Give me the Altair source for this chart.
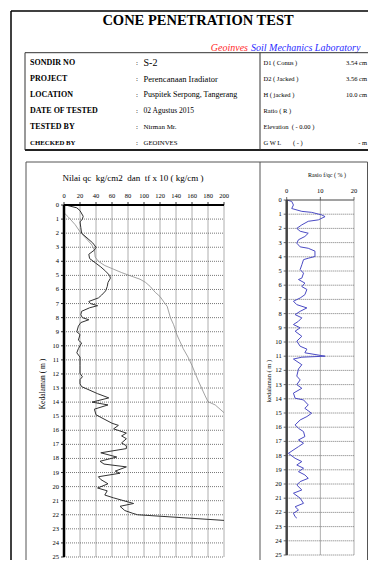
import altair as alt
import pandas as pd

FONT = "Liberation Serif"
NB = "\u00a0"

# ---------------- text content ----------------
title_text = "CONE PENETRATION TEST"
lab_name_a = "Geoinves"
lab_name_b = "Soil Mechanics Laboratory"
info_labels = ["SONDIR NO", "PROJECT", "LOCATION", "DATE OF TESTED", "TESTED BY", "CHECKED BY"]
info_values = ["S-2", "Perencanaan Iradiator", "Puspitek Serpong, Tangerang",
               "02 Agustus 2015", "Nirman Mr.", "GEOINVES"]
spec_labels = ["D1 ( Conus )", "D2 ( Jacked )", "H ( jacked )", "Ratio ( R )",
               "Elevation" + NB * 2 + "( - 0.00 )", "G W L"]
spec_mid = ["", "", "", "", "", "( - )"]
spec_values = ["3.54 cm", "3.56 cm", "10.0 cm", "", "", "- m"]

qc_title = "Nilai qc" + NB * 2 + "kg/cm2" + NB * 2 + "dan" + NB * 2 + "tf x 10 ( kg/cm )"
ratio_title = "Rasio f/qc ( % )"
depth_title_left = "Kedalaman ( m )"
depth_title_right = "kedalaman ( m )"

# ---------------- tick labels ----------------
qc_ticks = [0, 20, 40, 60, 80, 100, 120, 140, 160, 180, 200]
ratio_ticks = [0, 10, 20]
depth_ticks = list(range(0, 26))

# ---------------- series ----------------
qc_depth = [0.0, 0.2, 0.4, 0.8, 1.0, 1.2, 1.6, 2.0, 2.4, 2.7, 3.0, 3.2, 3.5, 3.8, 4.1,
            4.4, 4.7, 5.0, 5.2, 5.5, 5.8, 6.1, 6.4, 6.6, 6.85, 7.0, 7.15, 7.3, 7.55,
            7.8, 8.0, 8.15, 8.35, 8.6, 9.0, 9.2, 9.6, 9.8, 10.2, 10.5, 10.8, 11.4,
            11.95, 12.2, 12.4, 12.7, 12.9, 13.1, 13.4, 13.7, 14.0, 14.2, 14.5, 14.9,
            15.2, 15.5, 15.65, 15.9, 16.2, 16.4, 16.6, 16.9, 17.1, 17.3, 17.6, 17.9,
            18.2, 18.4, 18.6, 18.9, 19.05, 19.3, 19.5, 19.8, 20.1, 20.3, 20.6, 20.8,
            21.2, 21.4, 21.7, 21.9, 22.0, 22.4]
qc_value = [2, 16, 20, 24, 23, 20, 21, 22, 30, 36, 40, 38, 31, 32, 39,
            46, 52, 57, 58, 55, 54, 52, 47, 43, 31, 33, 42, 32, 22,
            21, 23, 31, 21, 18, 16, 20, 18, 22, 18, 16, 20, 20,
            20, 23, 20, 20, 22, 30, 42, 56, 35, 55, 38, 40,
            50, 60, 68, 62, 78, 72, 78, 72, 78, 78, 46, 66,
            45, 50, 78, 64, 70, 43, 46, 55, 42, 54, 51, 62,
            87, 70, 76, 86, 92, 200]

tf_depth = [0.55, 0.83, 1.4, 1.9, 2.4, 2.85, 3.2, 3.7, 4.0, 4.3, 4.56, 4.8, 5.03, 5.27,
            5.5, 5.8, 6.2, 6.5, 6.9, 7.2, 8.0, 8.5, 9.2, 9.7, 10.2, 10.8, 11.4, 11.95,
            12.5, 13.0, 13.5, 13.97, 14.2, 14.75]
tf_value = [0, 5, 14, 20, 28, 35, 38, 39, 43, 51, 62, 72, 83, 95,
            102, 108, 114, 120, 125, 129, 133, 137, 141, 145, 149, 155, 160, 164,
            168, 172, 176, 180, 189, 200]

ratio_depth = [0, 0.1, 0.35, 0.6, 0.8, 0.87, 1.05, 1.17, 1.4, 1.5, 1.75, 2.0, 2.2, 2.34,
               2.57, 2.8, 3.04, 3.3, 3.4, 3.6, 3.98, 4.1, 4.2, 4.56, 4.9, 5.15, 5.5, 5.6,
               5.85, 6.1, 6.3, 6.67, 6.9, 7.13, 7.37, 7.6, 7.84, 8.07, 8.3, 8.54, 8.77,
               9.0, 9.24, 9.6, 9.94, 10.3, 10.5, 10.76, 11.0, 11.07, 11.2, 11.6, 11.9,
               12.4, 12.67, 13.0, 13.26, 13.6, 13.96, 14.08, 14.43, 14.67, 15.02, 15.25,
               15.49, 15.84, 16.08, 16.31, 16.66, 16.9, 17.13, 17.37, 17.84, 18.19,
               18.42, 18.66, 18.89, 19.13, 19.36, 19.6, 19.83, 20.07, 20.42, 20.65,
               21.0, 21.36, 21.6, 21.83, 22.06, 22.3, 22.4]
ratio_value = [0, 1.5, 2, 1.5, 4.5, 7.4, 10.4, 11.4, 9.4, 6.4, 4.5, 3, 4, 6.4,
               5.4, 3.5, 3, 4, 6.4, 8.4, 8.4, 6.4, 5, 4.5, 4, 5, 4.5, 3.5,
               5.4, 4.5, 6, 5.4, 4, 2, 3, 6, 4, 2.5, 4.5, 3.5, 2,
               4, 2.5, 4.5, 3, 4, 6, 5.4, 11.4, 4.5, 2, 4.5, 3.5,
               3, 4, 3, 4.5, 2, 2.5, 5, 6.4, 5.4, 7.4, 6,
               4, 2.5, 3.5, 5, 5.4, 3.5, 5, 3.5, 0.5, 2.5,
               4.5, 3, 5, 3.5, 5.4, 6.4, 4, 3, 4.5, 2,
               4, 5, 2.5, 3.5, 2, 2.5, 3]

# ---------------- layout (chart pixel coordinates = page - 8) ----------------
W, H = 360, 552
L_X, L_Y = [56, 216], [197, 549]
R_X, R_Y = [278.7, 346], [192, 547]

dummy = pd.DataFrame({"a": [0]})


def rule(x, y, x2, y2, color="black", width=1.0, dash=None):
    kw = dict(color=color, strokeWidth=width)
    if dash:
        kw["strokeDash"] = dash
    return alt.Chart(dummy).mark_rule(**kw).encode(
        x=alt.value(x), x2=alt.value(x2), y=alt.value(y), y2=alt.value(y2))


def txt(s, x, y, size, weight="normal", align="left", color="black", style="normal", angle=0):
    kw = dict(text=s, font=FONT, fontSize=size, fontWeight=weight, align=align,
              baseline="middle", color=color, fontStyle=style)
    if angle:
        kw["angle"] = angle
    return alt.Chart(dummy).mark_text(**kw).encode(x=alt.value(x), y=alt.value(y))


deco = []
# outer frame
deco.append(rule(3, 3, W, 3, width=1.5))
deco.append(rule(3, 3, 3, H, width=1.5))
# title and lab name
deco.append(txt(title_text, 190, 13, 14.5, weight="bold", align="center"))
deco.append(txt(lab_name_a, 240, 40, 10, align="right", color="#ff2a2a", style="italic"))
deco.append(txt(lab_name_b, 243, 40, 10, align="left", color="#2a2aff", style="italic"))
# info table frame
deco.append(rule(17, 44.7, W, 44.7, color="#333", width=1))
deco.append(rule(17, 142, W, 142, color="#222", width=2))
deco.append(rule(17, 44.7, 17, 142, color="#333", width=1))
deco.append(rule(252, 44.7, 252, 142, color="#333", width=1))
label_sizes = [8, 8, 8, 8, 8, 6.8]
value_sizes = [10, 8.5, 8, 7.5, 7, 6.8]
for i in range(6):
    yy = 54.7 + 16 * i
    deco.append(txt(info_labels[i], 22, yy, label_sizes[i], weight="bold"))
    deco.append(txt(":", 129, yy, 7, align="center"))
    deco.append(txt(info_values[i], 135.5, yy, value_sizes[i]))
    deco.append(txt(spec_labels[i], 255.5, yy, 6.5))
    if spec_mid[i]:
        deco.append(txt(spec_mid[i], 285, yy, 6.5))
    if spec_values[i]:
        deco.append(txt(spec_values[i], 359, yy, 6.5, align="right"))
# lower panel frame
deco.append(rule(18, 154, W - 0.5, 154, color="#555", width=1))
deco.append(rule(18, 154, 18, H, color="#555", width=1))
deco.append(rule(252, 154, 252, H, color="#555", width=1))
deco.append(rule(W - 0.5, 154, W - 0.5, H, color="#555", width=1))
# plot titles
deco.append(txt(qc_title, 125, 170, 9, align="center"))
deco.append(txt(ratio_title, 319, 167, 6, align="center"))
deco.append(txt(depth_title_left, 35, 376, 7.5, align="center", angle=270))
deco.append(txt(depth_title_right, 261, 373, 6.5, align="center", angle=270))


def plot_panel(xs, ys, xmax, xticks, x_range, y_range, series, frame_color, top_width):
    """series: list of (df, color, width)."""
    vg = pd.DataFrame({"v": xticks[1:], "d0": 0, "d1": 25})
    hg = pd.DataFrame({"d": depth_ticks[1:], "v0": 0, "v1": xmax})
    xt = pd.DataFrame({"v": xticks})
    yt = pd.DataFrame({"d": depth_ticks})
    top = pd.DataFrame({"v0": [0], "v1": [xmax], "d": [0]})
    left = pd.DataFrame({"v": [0], "d0": [0], "d1": [25]})
    X = lambda f: alt.X(f, scale=xs, axis=None)
    Y = lambda f: alt.Y(f, scale=ys, axis=None)
    layers = [
        alt.Chart(vg).mark_rule(color="#999", strokeWidth=0.8).encode(
            x=X("v:Q"), y=Y("d0:Q"), y2="d1:Q"),
        alt.Chart(hg).mark_rule(color="#555", strokeWidth=0.8, strokeDash=[1, 1]).encode(
            y=Y("d:Q"), x=X("v0:Q"), x2="v1:Q"),
    ]
    for df, color, width in series:
        layers.append(alt.Chart(df).mark_line(color=color, strokeWidth=width).encode(
            x=X("value:Q"), y=Y("depth:Q"), order="i:Q"))
    layers += [
        # top axis
        alt.Chart(top).mark_rule(color=frame_color, strokeWidth=top_width).encode(
            x=X("v0:Q"), x2="v1:Q", y=Y("d:Q")),
        alt.Chart(xt).mark_rule(color=frame_color, strokeWidth=0.8).encode(
            x=X("v:Q"), y=alt.value(y_range[0] - 3), y2=alt.value(y_range[0])),
        alt.Chart(xt).mark_text(font=FONT, fontSize=6.5, baseline="bottom", align="center").encode(
            x=X("v:Q"), y=alt.value(y_range[0] - 6), text="v:Q"),
        # left axis
        alt.Chart(left).mark_rule(color=frame_color, strokeWidth=2.5).encode(
            x=X("v:Q"), y=Y("d0:Q"), y2="d1:Q"),
        alt.Chart(yt).mark_rule(color=frame_color, strokeWidth=0.8).encode(
            y=Y("d:Q"), x=alt.value(x_range[0] - 3), x2=alt.value(x_range[0])),
        alt.Chart(yt).mark_text(font=FONT, fontSize=6.5, baseline="middle", align="right").encode(
            y=Y("d:Q"), x=alt.value(x_range[0] - 5), text="d:Q"),
    ]
    return alt.layer(*layers)


xl = alt.Scale(domain=[0, 200], range=L_X, nice=False, zero=False)
yl = alt.Scale(domain=[0, 25], range=L_Y, nice=False, zero=False)
xr = alt.Scale(domain=[0, 20], range=R_X, nice=False, zero=False)
yr = alt.Scale(domain=[0, 25], range=R_Y, nice=False, zero=False)

qc_df = pd.DataFrame({"depth": qc_depth, "value": qc_value})
qc_df["i"] = range(len(qc_df))
tf_df = pd.DataFrame({"depth": tf_depth, "value": tf_value})
tf_df["i"] = range(len(tf_df))
ratio_df = pd.DataFrame({"depth": ratio_depth, "value": ratio_value})
ratio_df["i"] = range(len(ratio_df))

left_plot = plot_panel(xl, yl, 200, qc_ticks, L_X, L_Y,
                       [(tf_df, "#8a8a8a", 0.8), (qc_df, "#333333", 1.0)], "black", 2)
right_plot = plot_panel(xr, yr, 20, ratio_ticks, R_X, R_Y,
                        [(ratio_df, "#4b4bc4", 1.0)], "#444444", 1)

chart = alt.layer(*deco, left_plot, right_plot).resolve_scale(
    x="independent", y="independent"
).properties(
    width=W, height=H, autosize=alt.AutoSizeParams(type="none"), padding=0
).configure_view(stroke=None)

chart.save("out.html", embed_options={"renderer": "svg", "actions": False})
